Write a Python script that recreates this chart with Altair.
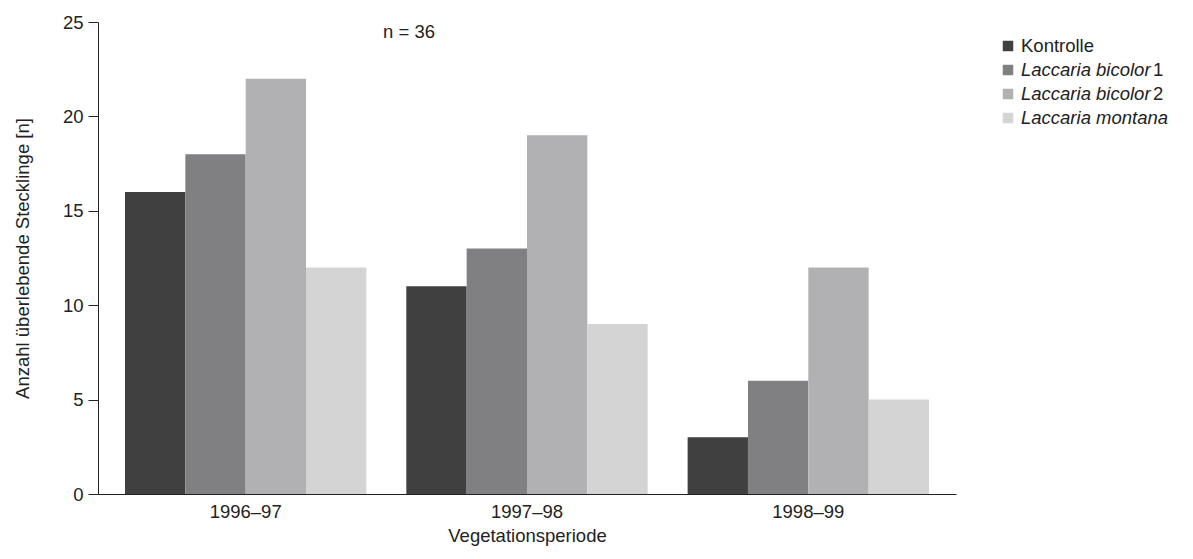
import altair as alt
import pandas as pd

periods = ["1996–97", "1997–98", "1998–99"]
series = ["Kontrolle", "Laccaria bicolor 1", "Laccaria bicolor 2", "Laccaria montana"]
values = {
    "Kontrolle": [16, 11, 3],
    "Laccaria bicolor 1": [18, 13, 6],
    "Laccaria bicolor 2": [22, 19, 12],
    "Laccaria montana": [12, 9, 5],
}
colors = ["#404040", "#808083", "#b1b1b3", "#d4d4d5"]

rows = []
for s in series:
    for p, v in zip(periods, values[s]):
        rows.append({"Periode": p, "Serie": s, "Wert": v})
df = pd.DataFrame(rows)

W, H = 858, 472
font = "Liberation Sans"
FS = 18.5

bars = alt.Chart(df).mark_bar().encode(
    x=alt.X("Periode:N", sort=periods, title="Vegetationsperiode",
            scale=alt.Scale(paddingInner=0.142, paddingOuter=0.096),
            axis=alt.Axis(labelAngle=0, ticks=False, labelPadding=8, titlePadding=6)),
    xOffset=alt.XOffset("Serie:N", sort=series),
    y=alt.Y("Wert:Q", title="Anzahl überlebende Stecklinge [n]",
            scale=alt.Scale(domain=[0, 25]),
            axis=alt.Axis(values=[0, 5, 10, 15, 20, 25], grid=False, tickSize=10, labelPadding=5, titlePadding=30)),
    color=alt.Color("Serie:N", sort=series, scale=alt.Scale(domain=series, range=colors), legend=None),
)

note = alt.Chart(pd.DataFrame({"t": ["n = 36"]})).mark_text(
    fontSize=FS, font=font, align="center", baseline="middle", color="#222").encode(
    text="t:N", x=alt.value(311), y=alt.value(10))

leg = pd.DataFrame({
    "Serie": series,
    "it": ["", "Laccaria bicolor", "Laccaria bicolor", "Laccaria montana"],
    "norm": ["Kontrolle", "1", "2", ""],
    "nx": [923, 1055, 1055, 0],
    "y": [24, 48, 72, 96],
})
sq = alt.Chart(leg).mark_square(size=110, opacity=1).encode(
    x=alt.value(910), y=alt.Y("y:Q", scale=None),
    color=alt.Color("Serie:N", sort=series, scale=alt.Scale(domain=series, range=colors), legend=None))
it = alt.Chart(leg).mark_text(fontSize=FS, font=font, fontStyle="italic", align="left", baseline="middle", color="#222").encode(
    x=alt.value(923), y=alt.Y("y:Q", scale=None), text="it:N")
nm = alt.Chart(leg).mark_text(fontSize=FS, font=font, align="left", baseline="middle", color="#222").encode(
    x=alt.X("nx:Q", scale=None), y=alt.Y("y:Q", scale=None), text="norm:N")

chart = alt.layer(bars, note, sq, it, nm).resolve_scale(color="shared").properties(
    width=W, height=H, padding={"left": 5, "top": 5, "right": 5, "bottom": 5}
).configure_view(stroke=None).configure_axis(
    labelFont=font, titleFont=font, labelFontSize=FS, titleFontSize=FS,
    titleFontWeight="normal", labelColor="#222", titleColor="#222",
    domainColor="#222", tickColor="#222")

chart.save("out.html", embed_options={"renderer": "svg", "actions": False})
